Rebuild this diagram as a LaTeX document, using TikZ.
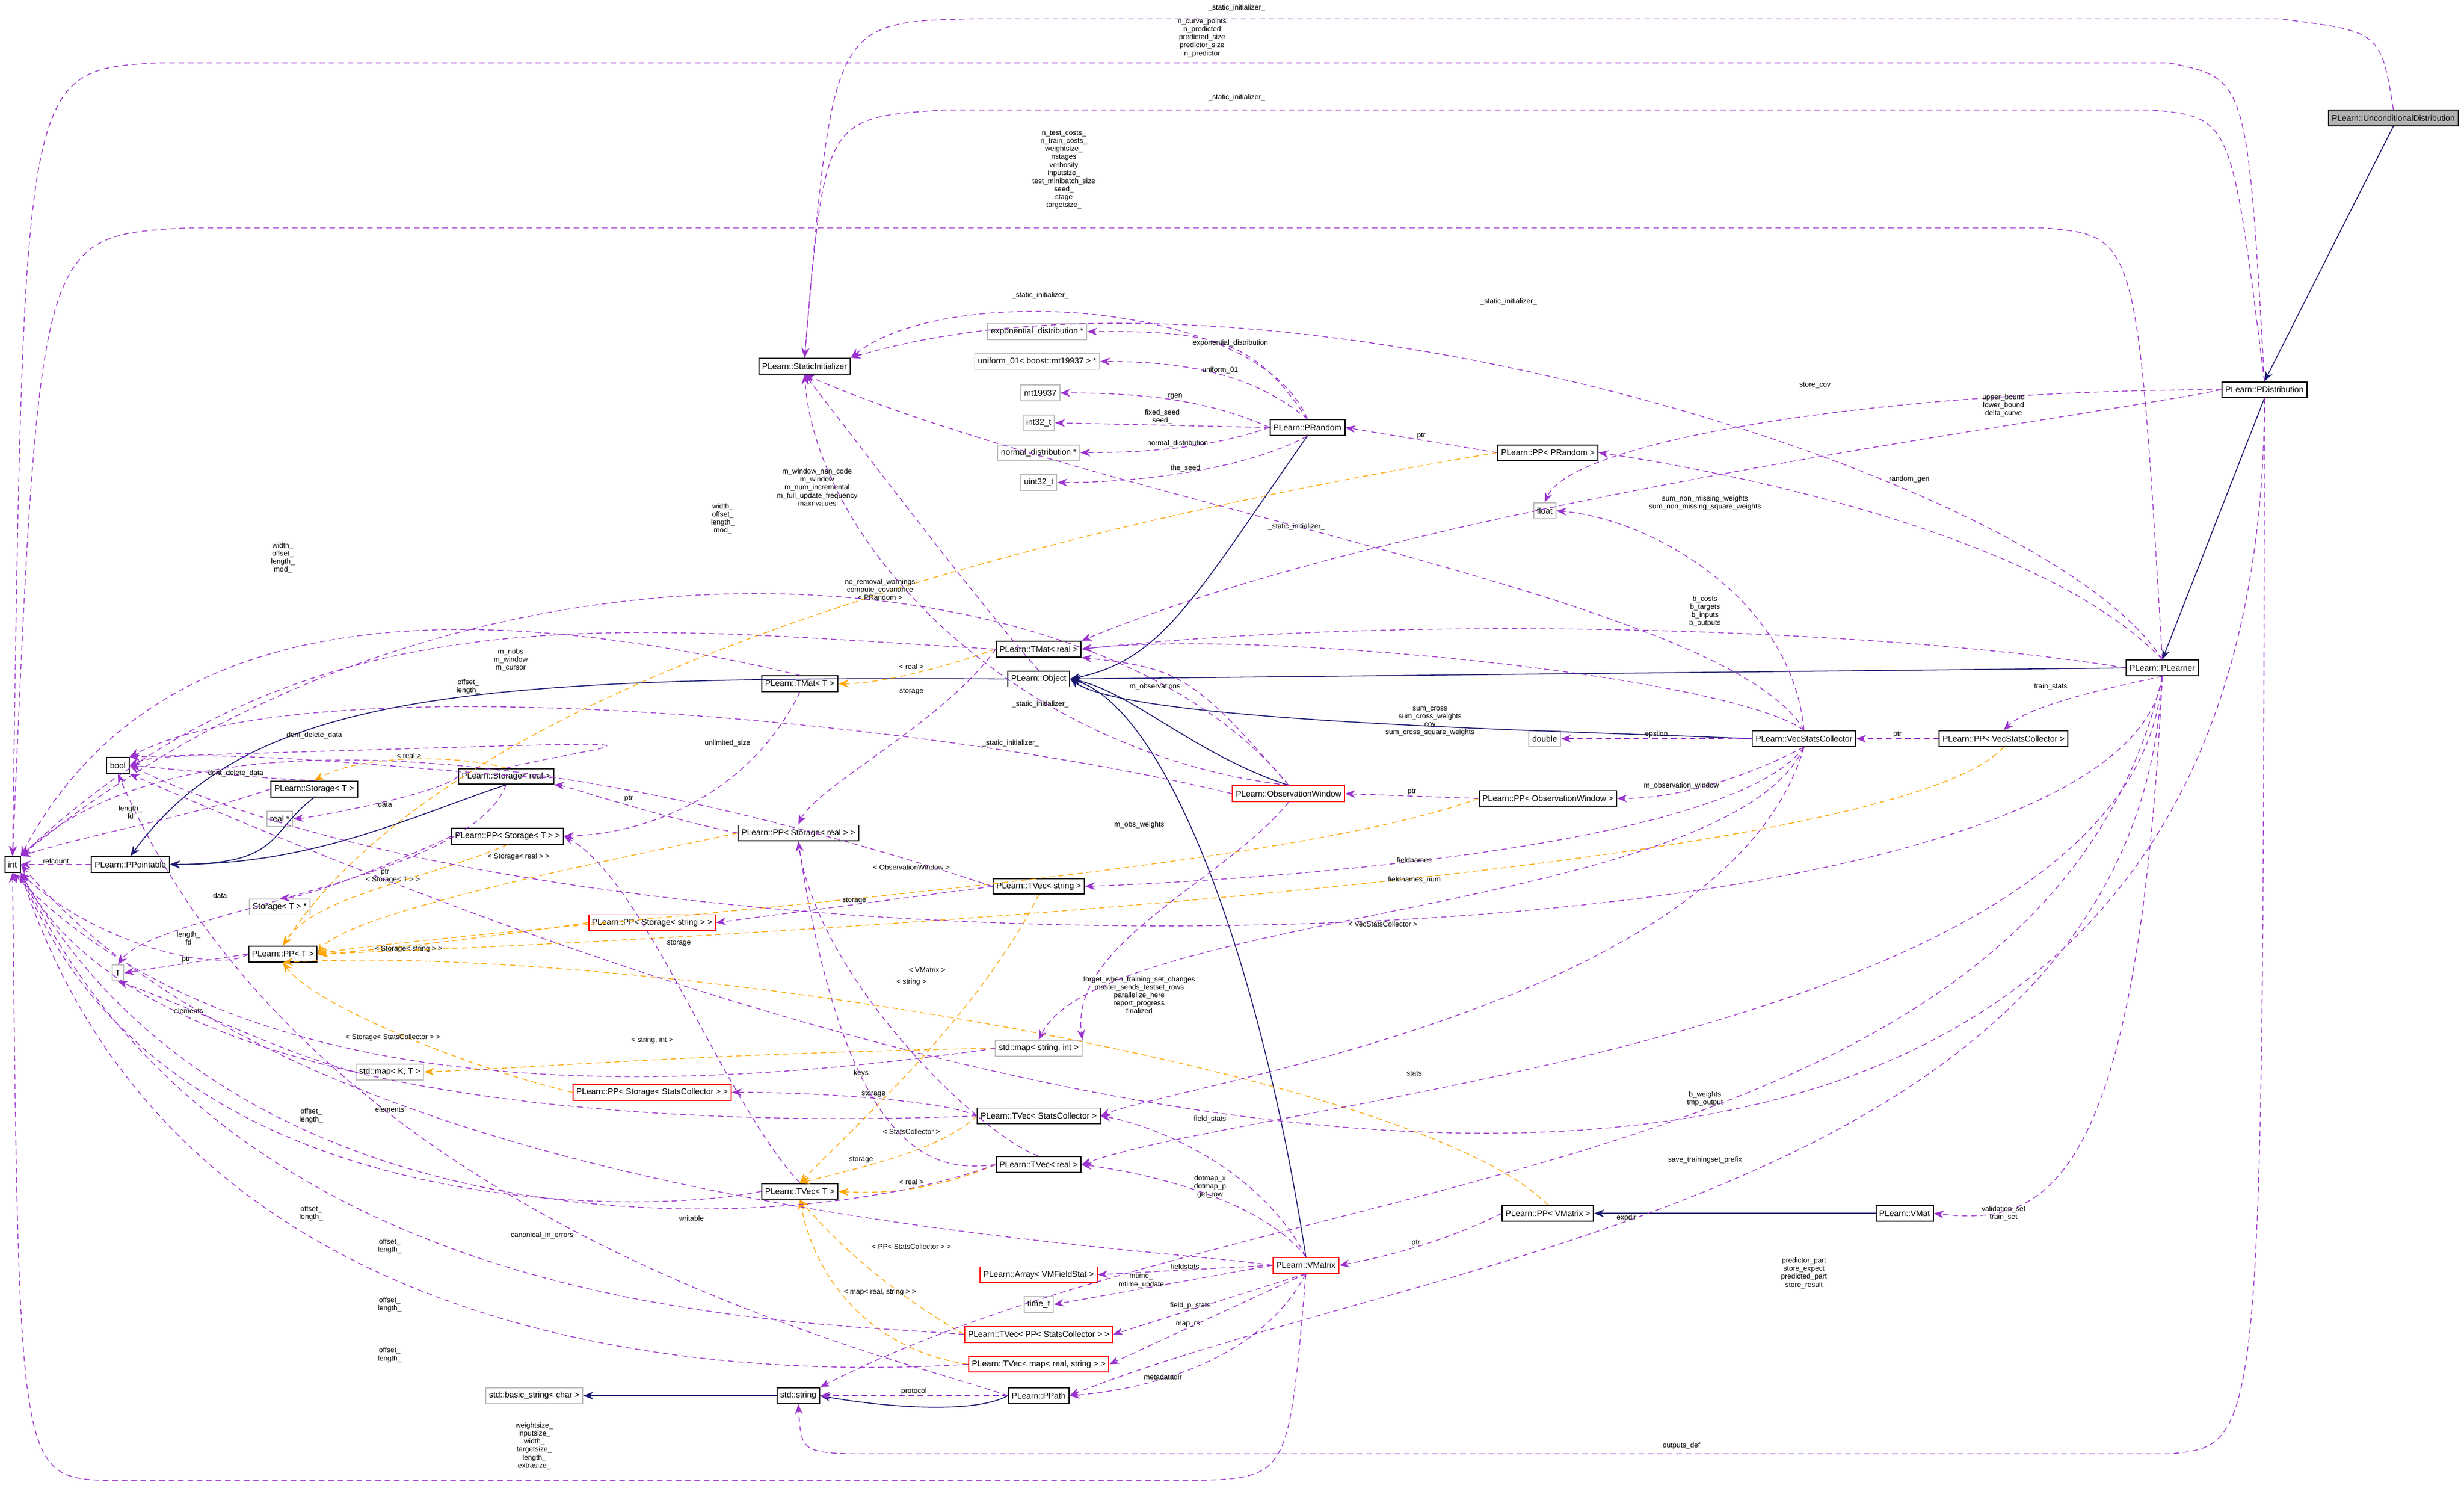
\documentclass[tikz,border=0pt]{standalone}
\usepackage{fontspec}
\setmainfont{Liberation Sans}
\usetikzlibrary{arrows.meta}
\definecolor{usec}{HTML}{9A32CD}
\definecolor{tplc}{HTML}{FFA500}
\definecolor{inhc}{HTML}{191970}
\begin{document}
\begin{tikzpicture}[x=1mm,y=-1mm,
  every node/.style={font=\fontsize{15}{17}\selectfont},
  cls/.style={draw=black,line width=2pt,fill=white,inner xsep=6pt,minimum height=10mm},
  redc/.style={cls,draw=red},
  grayc/.style={cls,draw=black!25},
  gfill/.style={cls,fill=black!30},
  use/.style={draw=usec,line width=1.4pt,dash pattern=on 10pt off 7pt,-{Stealth[length=18pt,width=14pt]}},
  tpl/.style={draw=tplc,line width=1.4pt,dash pattern=on 10pt off 7pt,-{Stealth[length=18pt,width=14pt]}},
  inh/.style={draw=inhc,line width=1.6pt,-{Stealth[length=18pt,width=14pt]}},
  lab/.style={align=center,font=\fontsize{13}{14.5}\selectfont,inner sep=1pt}]
\useasboundingbox (0,0) rectangle (1568,962);
% nodes
\node[gfill] (ud) at (1523,75) {PLearn::UnconditionalDistribution};
\node[cls] (pd) at (1441,248) {PLearn::PDistribution};
\node[cls] (pl) at (1376,425) {PLearn::PLearner};
\node[cls] (si) at (512,233) {PLearn::StaticInitializer};
\node[grayc] (ed) at (660,211) {exponential\_distribution *};
\node[grayc] (u01) at (660,230) {uniform\_01< boost::mt19937 > *};
\node[grayc] (mt) at (662,250) {mt19937};
\node[grayc] (i32) at (661,269) {int32\_t};
\node[grayc] (nd) at (661,288) {normal\_distribution *};
\node[grayc] (u32) at (661,307) {uint32\_t};
\node[cls] (pr) at (832,272) {PLearn::PRandom};
\node[cls] (ppr) at (985,288) {PLearn::PP< PRandom >};
\node[grayc] (fl) at (983,325) {float};
\node[cls] (tmr) at (661,413) {PLearn::TMat< real >};
\node[cls] (tmt) at (509,435) {PLearn::TMat< T >};
\node[cls] (ob) at (661,432) {PLearn::Object};
\node[cls] (vsc) at (1148,470) {PLearn::VecStatsCollector};
\node[cls] (ppvsc) at (1275,470) {PLearn::PP< VecStatsCollector >};
\node[grayc] (db) at (983,470) {double};
\node[redc] (ow) at (820,505) {PLearn::ObservationWindow};
\node[cls] (ppow) at (985,508) {PLearn::PP< ObservationWindow >};
\node[cls] (bool) at (75,487) {bool};
\node[cls] (stt) at (200,502) {PLearn::Storage< T >};
\node[cls] (str) at (322,494) {PLearn::Storage< real >};
\node[grayc] (realp) at (178,521) {real *};
\node[cls] (int) at (8,550) {int};
\node[cls] (ppt) at (83,550) {PLearn::PPointable};
\node[cls] (ppst) at (323,532) {PLearn::PP< Storage< T > >};
\node[cls] (ppsr) at (508,530) {PLearn::PP< Storage< real > >};
\node[grayc] (sttp) at (178,577) {Storage< T > *};
\node[redc] (ppss) at (415,587) {PLearn::PP< Storage< string > >};
\node[cls] (tvs) at (661,564) {PLearn::TVec< string >};
\node[cls] (ppT) at (180,607) {PLearn::PP< T >};
\node[grayc] (T) at (75,619) {T};
\node[grayc] (msi) at (661,667) {std::map< string, int >};
\node[grayc] (mkt) at (248,682) {std::map< K, T >};
\node[redc] (ppssc) at (415,695) {PLearn::PP< Storage< StatsCollector > >};
\node[cls] (tvsc) at (661,710) {PLearn::TVec< StatsCollector >};
\node[cls] (tvr) at (661,741) {PLearn::TVec< real >};
\node[cls] (tvt) at (509,758) {PLearn::TVec< T >};
\node[cls] (ppvm) at (985,772) {PLearn::PP< VMatrix >};
\node[cls] (vmat) at (1212,772) {PLearn::VMat};
\node[redc] (avf) at (661,811) {PLearn::Array< VMFieldStat >};
\node[grayc] (tt) at (661,830) {time\_t};
\node[redc] (vm) at (831,805) {PLearn::VMatrix};
\node[redc] (tvpp) at (661,849) {PLearn::TVec< PP< StatsCollector > >};
\node[redc] (tvmap) at (661,868) {PLearn::TVec< map< real, string > >};
\node[cls] (pp) at (661,888) {PLearn::PPath};
\node[cls] (sstr) at (508,888) {std::string};
\node[grayc] (bstr) at (340,888) {std::basic\_string< char >};
% inheritance
\draw[inh] (ud.south) -- (pd.north);
\draw[inh] (pd.south) -- (pl.north);
\draw[inh] (pl.west) -- (ob.east);
\draw[inh] (pr.south) .. controls (760,380) and (740,420) .. (ob.east);
\draw[inh] (vsc.west) .. controls (1000,465) and (720,460) .. (ob.east);
\draw[inh] (ow.north) .. controls (760,480) and (720,440) .. (ob.east);
\draw[inh] (vm.north) .. controls (800,600) and (740,450) .. (ob.east);
\draw[inh] (ob.west) .. controls (300,430) and (160,440) .. (ppt.north);
\draw[inh] (stt.south) .. controls (170,530) and (180,550) .. (ppt.east);
\draw[inh] (str.south) .. controls (260,520) and (200,550) .. (ppt.east);
\draw[inh] (vmat.west) -- (ppvm.east);
\draw[inh] (pp.west) .. controls (620,900) and (560,895) .. (sstr.east);
\draw[inh] (sstr.west) -- (bstr.east);
% templates
\draw[tpl] (tmr.west) .. controls (600,425) and (560,435) .. (tmt.east);
\node[lab] at (580,424) {< real >};
\draw[tpl] (ppr.west) .. controls (700,330) and (300,420) .. (ppT.north);
\node[lab] at (560,375) {no\_removal\_warnings\\compute\_covariance\\< PRandom >};
\draw[tpl] (str.north) .. controls (290,480) and (230,480) .. node[lab,above]{< real >} (stt.north);
\draw[tpl] (ppst.south) .. controls (270,560) and (200,570) .. (ppT.north);
\node[lab] at (250,560) {< Storage< T > >};
\draw[tpl] (ppsr.west) .. controls (400,545) and (220,580) .. (ppT.east);
\node[lab] at (330,545) {< Storage< real > >};
\draw[tpl] (ppss.west) .. controls (320,595) and (240,605) .. (ppT.east);
\node[lab] at (260,604) {< Storage< string > >};
\draw[tpl] (ppow.west) .. controls (800,560) and (300,590) .. (ppT.east);
\node[lab] at (580,552) {< ObservationWindow >};
\draw[tpl] (ppvsc.south) .. controls (1200,560) and (400,600) .. (ppT.east);
\node[lab] at (880,588) {< VecStatsCollector >};
\draw[tpl] (ppvm.north) .. controls (900,680) and (400,600) .. (ppT.south);
\node[lab] at (590,617) {< VMatrix >};
\draw[tpl] (ppssc.west) .. controls (300,680) and (200,640) .. (ppT.south);
\node[lab] at (250,660) {< Storage< StatsCollector > >};
\draw[tpl] (msi.west) .. controls (450,670) and (330,680) .. (mkt.east);
\node[lab] at (415,662) {< string, int >};
\draw[tpl] (tvs.south) .. controls (620,650) and (540,720) .. (tvt.north);
\node[lab] at (580,625) {< string >};
\draw[tpl] (tvsc.west) .. controls (600,730) and (560,740) .. (tvt.north);
\node[lab] at (580,720) {< StatsCollector >};
\draw[tpl] (tvr.west) .. controls (600,755) and (570,760) .. (tvt.east);
\node[lab] at (580,752) {< real >};
\draw[tpl] (tvpp.west) .. controls (580,830) and (540,800) .. (tvt.south);
\node[lab] at (580,793) {< PP< StatsCollector > >};
\draw[tpl] (tvmap.west) .. controls (560,860) and (520,820) .. (tvt.south);
\node[lab] at (560,822) {< map< real, string > >};
% usage (top arcs)
\draw[use] (ud.north) .. controls (1515,20) .. (1450,12) -- (620,12) .. controls (530,14) .. (si.north);
\node[lab] at (787,5) {\_static\_initializer\_};
\draw[use] (pd.north) .. controls (1430,50) .. (1380,40) -- (100,40) .. controls (15,45) .. (int.north);
\node[lab] at (765,24) {n\_curve\_points\\n\_predicted\\predicted\_size\\predictor\_size\\n\_predictor};
\draw[use] (pd.north) .. controls (1420,75) .. (1370,70) -- (600,70) .. controls (525,75) .. (si.north);
\node[lab] at (787,62) {\_static\_initializer\_};
\draw[use] (pl.north) .. controls (1360,150) .. (1300,145) -- (120,145) .. controls (25,150) .. (int.north);
\node[lab] at (677,108) {n\_test\_costs\_\\n\_train\_costs\_\\weightsize\_\\nstages\\verbosity\\inputsize\_\\test\_minibatch\_size\\seed\_\\stage\\targetsize\_};
\draw[use] (pl.north) .. controls (1300,300) and (800,150) .. (si.north east);
\node[lab] at (960,192) {\_static\_initializer\_};
\draw[use] (pr.north) .. controls (800,190) and (600,180) .. (si.north east);
\node[lab] at (662,188) {\_static\_initializer\_};
\draw[use] (pr.north) .. controls (800,220) and (780,210) .. node[lab,above]{exponential\_distribution} (ed.east);
\draw[use] (pr.north) .. controls (800,240) and (760,230) .. node[lab,above]{uniform\_01} (u01.east);
\draw[use] (pr.west) .. controls (770,255) and (730,250) .. node[lab,above]{rgen} (mt.east);
\draw[use] (pr.west) -- node[lab,above]{fixed\_seed\\seed\_} (i32.east);
\draw[use] (pr.west) .. controls (770,285) and (730,288) .. node[lab,above]{normal\_distribution} (nd.east);
\draw[use] (pr.south) .. controls (790,300) and (720,307) .. node[lab,above]{the\_seed} (u32.east);
\draw[use] (ppr.west) -- node[lab,above]{ptr} (pr.east);
\draw[use] (pl.north) .. controls (1300,340) and (1100,300) .. (ppr.east);
\node[lab] at (1215,305) {random\_gen};
\draw[use] (pd.west) .. controls (1200,248) and (1000,280) .. (fl.north);
\node[lab] at (1155,245) {store\_cov};
\draw[use] (pd.west) .. controls (1300,270) and (900,320) .. (tmr.north east);
\node[lab] at (1275,258) {upper\_bound\\lower\_bound\\delta\_curve};
\draw[use] (vsc.north) .. controls (1140,380) and (1050,330) .. (fl.east);
\node[lab] at (1085,320) {sum\_non\_missing\_weights\\sum\_non\_missing\_square\_weights};
\draw[use] (vsc.north) .. controls (1100,380) and (700,320) .. (si.south);
\node[lab] at (825,335) {\_static\_initializer\_};
\draw[use] (ow.north) .. controls (700,350) and (300,310) .. (int.north east);
\node[lab] at (520,310) {m\_window\_nan\_code\\m\_window\\m\_num\_incremental\\m\_full\_update\_frequency\\maxnvalues};
\draw[use] (pl.west) .. controls (1200,400) and (900,390) .. (tmr.east);
\node[lab] at (1085,389) {b\_costs\\b\_targets\\b\_inputs\\b\_outputs};
\draw[use] (vsc.north) .. controls (1100,430) and (800,400) .. (tmr.east);
\node[lab] at (910,459) {sum\_cross\\sum\_cross\_weights\\cov\\sum\_cross\_square\_weights};
\draw[use] (tmr.west) .. controls (400,400) and (200,370) .. (int.north east);
\node[lab] at (460,330) {width\_\\offset\_\\length\_\\mod\_};
\draw[use] (tmt.north) .. controls (300,380) and (100,380) .. (int.north east);
\node[lab] at (180,355) {width\_\\offset\_\\length\_\\mod\_};
\draw[use] (ow.west) .. controls (600,460) and (200,420) .. (bool.north east);
\node[lab] at (325,420) {m\_nobs\\m\_window\\m\_cursor};
\draw[use] (ow.north) .. controls (760,430) and (750,425) .. (tmr.south east);
\node[lab] at (735,437) {m\_observations};
\draw[use] (ob.north) .. controls (620,380) and (560,300) .. (si.south);
\node[lab] at (662,448) {\_static\_initializer\_};
\draw[use] (ow.north) .. controls (650,480) and (520,350) .. (si.south);
\node[lab] at (643,473) {\_static\_initializer\_};
\draw[use] (vsc.west) -- node[lab,above]{epsilon} (db.east);
\draw[use] (ppvsc.west) -- node[lab,above]{ptr} (vsc.east);
\draw[use] (pl.south) .. controls (1330,440) and (1290,450) .. (ppvsc.north);
\node[lab] at (1305,437) {train\_stats};
\draw[use] (ppow.west) -- node[lab,above]{ptr} (ow.east);
\draw[use] (vsc.south) .. controls (1100,500) and (1060,508) .. (ppow.east);
\node[lab] at (1070,500) {m\_observation\_window};
\draw[use] (vsc.south) .. controls (1100,540) and (800,560) .. (tvs.east);
\node[lab] at (900,547) {fieldnames};
\draw[use] (vsc.south) .. controls (1100,580) and (700,580) .. (msi.north);
\node[lab] at (900,560) {fieldnames\_num};
\draw[use] (ow.south) .. controls (780,560) and (680,600) .. (msi.north east);
\node[lab] at (725,525) {m\_obs\_weights};
\draw[use] (vsc.south) .. controls (1100,640) and (750,690) .. (tvsc.east);
\node[lab] at (900,683) {stats};
\draw[use] (pl.south) .. controls (1360,660) and (800,700) .. (tvr.east);
\node[lab] at (1085,699) {b\_weights\\tmp\_output};
\draw[use] (pl.south) .. controls (1350,620) and (400,640) .. (bool.east);
\node[lab] at (725,633) {forget\_when\_training\_set\_changes\\master\_sends\_testset\_rows\\parallelize\_here\\report\_progress\\finalized};
\draw[use] (pl.south) .. controls (1360,760) and (1300,780) .. (vmat.east);
\node[lab] at (1275,772) {validation\_set\\train\_set};
\draw[use] (pl.south) .. controls (1360,760) and (900,800) .. (pp.east);
\node[lab] at (1035,775) {expdir};
\draw[use] (pl.south) .. controls (1300,760) and (800,740) .. (sstr.north east);
\node[lab] at (1085,738) {save\_trainingset\_prefix};
\draw[use] (pd.south) .. controls (1440,800) and (900,850) .. (bool.south east);
\node[lab] at (1148,810) {predictor\_part\\store\_expect\\predicted\_part\\store\_result};
\draw[use] (pd.south) .. controls (1440,920) .. (1380,925) -- (560,925) .. controls (510,925) .. (sstr.south);
\node[lab] at (1070,920) {outputs\_def};
\draw[use] (ppvm.west) .. controls (920,790) and (880,800) .. node[lab,above]{ptr} (vm.east);
\draw[use] (vm.north) .. controls (800,740) and (730,715) .. (tvsc.east);
\node[lab] at (770,712) {field\_stats};
\draw[use] (vm.north) .. controls (800,760) and (720,745) .. (tvr.east);
\node[lab] at (770,755) {dotmap\_x\\dotmap\_p\\get\_row};
\draw[use] (vm.west) -- node[lab,above]{fieldstats} (avf.east);
\draw[use] (vm.west) -- node[lab,above,pos=0.6]{mtime\_\\mtime\_update} (tt.east);
\draw[use] (vm.south) -- node[lab,above,pos=0.6]{field\_p\_stats} (tvpp.east);
\draw[use] (vm.south) -- node[lab,above,pos=0.6]{map\_rs} (tvmap.east);
\draw[use] (vm.south) .. controls (800,870) and (720,885) .. (pp.east);
\node[lab] at (740,876) {metadatadir};
\draw[use] (vm.west) .. controls (700,790) and (200,770) .. (int.east);
\node[lab] at (440,775) {writable};
\draw[use] (vm.south) .. controls (820,940) .. (760,942) -- (70,942) .. controls (12,940) .. (int.south);
\node[lab] at (340,920) {weightsize\_\\inputsize\_\\width\_\\targetsize\_\\length\_\\extrasize\_};
\draw[use] (pp.west) .. controls (560,860) and (200,780) .. (bool.south);
\node[lab] at (345,786) {canonical\_in\_errors};
\draw[use] (pp.west) -- node[lab,above]{protocol} (sstr.east);
\draw[use] (tvsc.west) .. controls (500,715) and (100,720) .. (int.south east);
\node[lab] at (198,710) {offset\_\\length\_};
\draw[use] (tvt.west) .. controls (400,775) and (100,775) .. (int.south east);
\node[lab] at (198,772) {offset\_\\length\_};
\draw[use] (tvr.west) .. controls (500,790) and (150,800) .. (int.south east);
\node[lab] at (248,793) {offset\_\\length\_};
\draw[use] (tvpp.west) .. controls (500,840) and (150,840) .. (int.south east);
\node[lab] at (248,830) {offset\_\\length\_};
\draw[use] (tvmap.west) .. controls (500,875) and (120,880) .. (int.south east);
\node[lab] at (248,862) {offset\_\\length\_};
\draw[use] (tvs.west) .. controls (500,520) and (150,420) .. (int.north east);
\node[lab] at (298,437) {offset\_\\length\_};
\draw[use] (tvs.west) -- node[lab,above]{storage} (ppss.east);
\draw[use] (tvsc.west) .. controls (600,700) and (520,695) .. node[lab,above]{storage} (ppssc.east);
\draw[use] (tvr.north) .. controls (620,720) and (520,620) .. (ppsr.south);
\node[lab] at (548,683) {keys};
\draw[use] (tvr.west) .. controls (600,745) and (540,745) .. (ppsr.south);
\node[lab] at (548,738) {storage};
\draw[use] (tvt.north) .. controls (460,700) and (410,560) .. (ppst.east);
\node[lab] at (432,600) {storage};
\draw[use] (tmr.west) .. controls (600,460) and (520,500) .. (ppsr.north);
\node[lab] at (580,440) {storage};
\draw[use] (tmt.south) .. controls (480,500) and (420,530) .. (ppst.east);
\draw[use] (str.north) .. controls (400,470) and (480,470) .. (bool.north east);
\node[lab] at (463,473) {unlimited\_size};
\draw[use] (str.east) .. controls (360,500) and (120,470) .. (bool.east);
\node[lab] at (200,468) {dont\_delete\_data};
\draw[use] (stt.north) .. controls (160,495) and (120,490) .. (bool.east);
\node[lab] at (150,492) {dont\_delete\_data};
\draw[use] (str.west) .. controls (280,505) and (200,520) .. (realp.east);
\node[lab] at (245,512) {data};
\draw[use] (ppsr.west) .. controls (420,520) and (360,500) .. (str.south east);
\node[lab] at (400,508) {ptr};
\draw[use] (ppst.west) .. controls (260,545) and (200,570) .. (sttp.north);
\node[lab] at (245,555) {ptr};
\draw[use] (stt.west) .. controls (120,520) and (60,530) .. (int.north east);
\node[lab] at (83,517) {length\_\\fd};
\draw[use] (str.south) .. controls (300,560) and (100,580) .. (T.north);
\node[lab] at (140,570) {data};
\draw[use] (ppt.west) -- node[lab,above]{refcount} (int.east);
\draw[use] (ppT.west) -- node[lab,above]{ptr} (T.east);
\draw[use] (mkt.west) .. controls (180,670) and (120,640) .. (T.south);
\node[lab] at (120,643) {elements};
\draw[use] (msi.west) .. controls (400,700) and (150,700) .. (int.south);
\node[lab] at (248,706) {elements};
\draw[use] (ppT.west) .. controls (140,620) and (60,600) .. (int.south east);
\node[lab] at (120,597) {length\_\\fd};
\end{tikzpicture}
\end{document}
